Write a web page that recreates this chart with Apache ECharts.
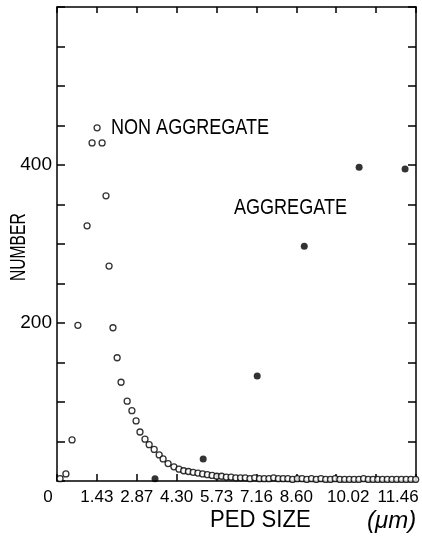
<!DOCTYPE html>
<html>
<head>
<meta charset="utf-8">
<script src="https://cdn.jsdelivr.net/npm/echarts@6/dist/echarts.min.js"></script>
<style>
  html, body { margin: 0; padding: 0; background: #fff; }
  #chart { width: 422px; height: 537px; }
</style>
</head>
<body>
<div id="chart"></div>
<script>
// tick labels along PED SIZE axis (um), one per tick step
const xTickLabels = ["0", "1.43", "2.87", "4.30", "5.73", "7.16", "8.60", "10.02", "11.46"];
const xStep = 1.4325;
const yTickLabels = [200, 400];

// non aggregate (open circles)
const nonAggX = [
  0.11, 0.32, 0.54, 0.75, 1.08, 1.26, 1.44, 1.62, 1.76, 1.87,
  2.01, 2.16, 2.30, 2.52, 2.69, 2.84, 2.98, 3.16, 3.31, 3.49,
  3.67, 3.81, 3.99, 4.20, 4.38, 4.55, 4.72, 4.89, 5.06, 5.23,
  5.40, 5.57, 5.74, 5.91, 6.08, 6.25, 6.42, 6.59, 6.76, 6.93,
  7.10, 7.27, 7.44, 7.61, 7.78, 7.95, 8.12, 8.29, 8.46, 8.63,
  8.80, 8.97, 9.14, 9.31, 9.48, 9.65, 9.82, 9.99, 10.16, 10.33,
  10.50, 10.67, 10.84, 11.01, 11.18, 11.35, 11.52, 11.69, 11.86, 12.03,
  12.20, 12.37, 12.54, 12.71, 12.88
];
const nonAggY = [
  3, 9, 52, 197, 323, 428, 447, 428, 361, 272,
  194, 156, 125, 101, 89, 76, 62, 53, 46, 40,
  33, 28, 22, 18, 15, 13, 12, 11, 10, 9,
  8, 7, 6, 6, 5, 5, 4, 4, 4, 3,
  4, 3, 3, 3, 4, 3, 3, 3, 2, 3,
  3, 2, 3, 2, 3, 2, 2, 3, 2, 2,
  2, 2, 2, 3, 2, 2, 2, 2, 2, 2,
  2, 2, 2, 2, 2
];

// aggregate (filled dots)
const aggX = [3.52, 5.25, 7.19, 8.88, 10.85, 12.50];
const aggY = [3, 28, 133, 297, 397, 395];

const font = "'Liberation Sans', Arial, sans-serif";

var chartDom = document.getElementById("chart");
var myChart = echarts.init(chartDom, null, { renderer: "canvas" });

const axisLine = { onZero: false, lineStyle: { color: "#000", width: 1.5 } };
const tickFont = { fontFamily: font, fontSize: 17, color: "#000" };

var option = {
  animation: false,
  backgroundColor: "#fff",
  grid: { left: 57, right: 6, top: 7, bottom: 56 },
  xAxis: [
    {
      type: "value",
      position: "bottom",
      min: 0,
      max: xStep * 9,
      interval: xStep,
      axisLine: axisLine,
      axisTick: { inside: true, length: 7, lineStyle: { color: "#000", width: 1.5 } },
      splitLine: { show: false },
      axisLabel: {
        margin: 8,
        color: "#000",
        fontFamily: font,
        fontSize: 17,
        formatter: (v) => {
          const i = Math.round(v / xStep);
          const t = xTickLabels[i];
          if (t === undefined) return "";
          if (i === 0) return "{z|" + t + "}";
          if (i === 7) return "{a|" + t + "}";
          if (i === 8) return "{b|" + t + "}";
          return t;
        },
        rich: {
          z: Object.assign({ padding: [0, 18, 0, 0] }, tickFont),
          a: Object.assign({ padding: [0, 0, 0, 24] }, tickFont),
          b: Object.assign({ padding: [0, 0, 0, 44] }, tickFont),
        },
      },
    },
    {
      type: "value",
      position: "top",
      min: 0,
      max: xStep * 9,
      interval: xStep,
      axisLine: axisLine,
      axisTick: { inside: true, length: 6, lineStyle: { color: "#000", width: 1.5 } },
      axisLabel: { show: false },
      splitLine: { show: false },
    },
  ],
  yAxis: [
    {
      type: "value",
      position: "left",
      min: 0,
      max: 600,
      interval: 50,
      axisLine: axisLine,
      axisTick: { inside: true, length: 8, lineStyle: { color: "#000", width: 1.5 } },
      splitLine: { show: false },
      axisLabel: {
        margin: 5,
        color: "#000",
        fontFamily: font,
        fontSize: 19,
        formatter: (v) => (yTickLabels.includes(v) ? String(v) : ""),
      },
    },
    {
      type: "value",
      position: "right",
      min: 0,
      max: 600,
      interval: 50,
      axisLine: axisLine,
      axisTick: { inside: true, length: 8, lineStyle: { color: "#000", width: 1.5 } },
      axisLabel: { show: false },
      splitLine: { show: false },
    },
  ],
  graphic: [
    // condensed look of the hand lettering
    { type: "text", x: 111, y: 117, scaleX: 0.82, style: { text: "NON AGGREGATE", font: "22px " + font, fill: "#000" } },
    { type: "text", x: 234, y: 197, scaleX: 0.82, style: { text: "AGGREGATE", font: "22px " + font, fill: "#000" } },
    { type: "text", x: 8, y: 281, rotation: Math.PI / 2, scaleX: 0.71, style: { text: "NUMBER", font: "22px " + font, fill: "#000" } },
    { type: "text", x: 210, y: 508, scaleX: 0.92, style: { text: "PED SIZE", font: "24px " + font, fill: "#000" } },
    { type: "text", x: 367, y: 509, style: { text: "(\u03bcm)", font: "italic 24px " + font, fill: "#000" } },
  ],
  series: [
    {
      name: "NON AGGREGATE",
      type: "scatter",
      symbol: "circle",
      symbolSize: 6,
      data: nonAggX.map((x, i) => [x, nonAggY[i]]),
      itemStyle: { color: "#fff", borderColor: "#000", borderWidth: 1.3 },
      z: 3,
    },
    {
      name: "AGGREGATE",
      type: "scatter",
      symbol: "circle",
      symbolSize: 7,
      data: aggX.map((x, i) => [x, aggY[i]]),
      itemStyle: { color: "#000" },
      z: 4,
    },
  ],
};

myChart.setOption(option);
</script>
</body>
</html>
